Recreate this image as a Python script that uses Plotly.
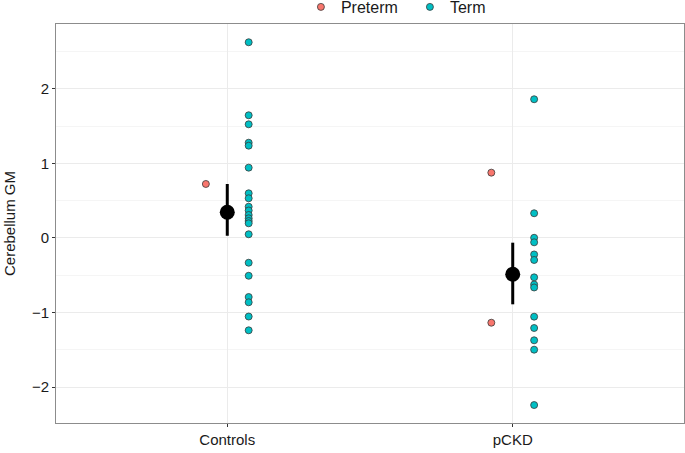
import plotly.graph_objects as go

groups = ["Controls", "pCKD"]

controls_term = [2.627, 1.647, 1.526, 1.279, 1.239, 0.944, 0.600, 0.533, 0.420, 0.369,
                 0.309, 0.264, 0.228, 0.197, 0.050, -0.332, -0.507, -0.792, -0.863,
                 -1.054, -1.239]
controls_preterm = [0.725]
pckd_term = [1.862, 0.332, 0.003, -0.058, -0.221, -0.295, -0.528, -0.624, -0.664,
             -1.056, -1.208, -1.373, -1.499, -2.242]
pckd_preterm = [0.877, -1.137]

group_mean = [0.345, -0.487]
ci_upper = [0.725, -0.063]
ci_lower = [0.030, -0.890]

dodge = 0.075
pos = {g: i + 1 for i, g in enumerate(groups)}

preterm_vals = {"Controls": controls_preterm, "pCKD": pckd_preterm}
term_vals = {"Controls": controls_term, "pCKD": pckd_term}

fig = go.Figure()

px, py = [], []
tx, ty = [], []
for g in groups:
    for v in preterm_vals[g]:
        px.append(pos[g] - dodge)
        py.append(v)
    for v in term_vals[g]:
        tx.append(pos[g] + dodge)
        ty.append(v)

mk_line = dict(color="#3a3a3a", width=0.8)
fig.add_trace(go.Scatter(x=px, y=py, mode="markers", name="Preterm",
                         marker=dict(color="#F8766D", size=7, line=mk_line)))
fig.add_trace(go.Scatter(x=tx, y=ty, mode="markers", name="Term",
                         marker=dict(color="#00BFC4", size=7, line=mk_line)))

mx = [pos[g] for g in groups]
fig.add_trace(go.Scatter(
    x=mx, y=group_mean, mode="markers", showlegend=False,
    marker=dict(color="black", size=15),
    error_y=dict(type="data", symmetric=False,
                 array=[u - m for u, m in zip(ci_upper, group_mean)],
                 arrayminus=[m - l for m, l in zip(group_mean, ci_lower)],
                 color="black", thickness=3, width=0)))

font = "Liberation Sans, Arial, Helvetica, sans-serif"
fig.update_layout(
    width=685, height=453,
    margin=dict(l=56, r=1, t=24, b=30, autoexpand=False),
    paper_bgcolor="white", plot_bgcolor="white",
    font=dict(family=font, size=15, color="#1a1a1a"),
    legend=dict(orientation="h", x=0.390, xanchor="left", y=1.0426, yanchor="middle",
                font=dict(size=16, color="#1a1a1a"), itemwidth=30,
                entrywidth=64, entrywidthmode="pixels",
                bgcolor="rgba(0,0,0,0)", tracegroupgap=0),
    showlegend=True,
)
fig.update_xaxes(
    range=[0.4, 2.6], tickvals=mx, ticktext=groups, automargin=False,
    showgrid=True, gridcolor="#ebebeb", gridwidth=1,
    showline=True, mirror=True, linecolor="#8c8c8c", linewidth=1,
    ticks="outside", ticklen=3, tickcolor="#333333",
    tickfont=dict(size=15, color="#1a1a1a"), zeroline=False,
)
fig.update_yaxes(
    range=[-2.483, 2.872], tickvals=[-2, -1, 0, 1, 2], automargin=False,
    ticktext=["\u22122", "\u22121", "0", "1", "2"],
    showgrid=True, gridcolor="#ebebeb", gridwidth=1,
    minor=dict(tickvals=[-2.5, -1.5, -0.5, 0.5, 1.5, 2.5], showgrid=True,
               gridcolor="#f5f5f5", gridwidth=1, ticks=""),
    showline=True, mirror=True, linecolor="#8c8c8c", linewidth=1,
    ticks="outside", ticklen=3, tickcolor="#333333",
    tickfont=dict(size=15, color="#1a1a1a"), zeroline=False,
    title=dict(text="Cerebellum GM", font=dict(size=15, color="#1a1a1a"), standoff=12),
)

fig.write_html("out.html", config={"displayModeBar": False},
               post_script="document.body.style.margin='0';")
